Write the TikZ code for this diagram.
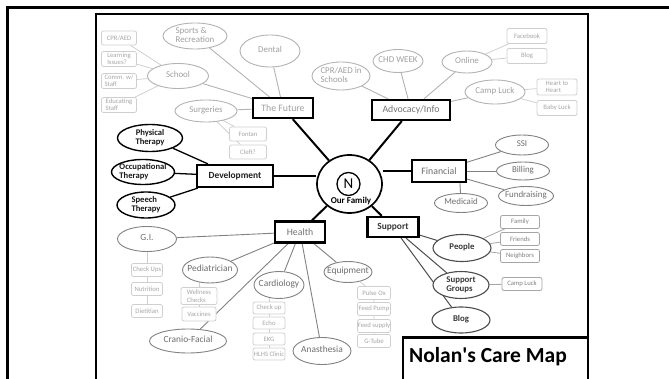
\documentclass[tikz,border=0pt]{standalone}
\usepackage{fontspec}
\setmainfont{Carlito}
\usetikzlibrary{shapes.geometric,backgrounds}
\definecolor{leafd}{HTML}{CFCFCF}
\definecolor{leaft}{HTML}{A6A6A6}
\definecolor{lgd}{HTML}{B3B3B3}
\definecolor{lgt}{HTML}{A0A0A0}
\definecolor{mgd}{HTML}{828282}
\definecolor{mgt}{HTML}{6E6E6E}
\definecolor{dgd}{HTML}{4D4D4D}
\definecolor{dgt}{HTML}{383838}
\newcommand\ctx[1]{\makebox[0pt]{\begin{tabular}{@{}c@{}}#1\end{tabular}}}
\newcommand\ltx[1]{\makebox[0pt]{\begin{tabular}{@{}l@{}}#1\end{tabular}}}
\renewcommand\arraystretch{0.82}
\begin{document}
\begin{tikzpicture}[x=1pt,y=-1pt,
  sz/.style 2 args={minimum width=#1, minimum height=#2},
  mainbox/.style={draw=black, line width=2.2pt, fill=white, inner sep=0pt, font=\fontsize{9.8}{11}\selectfont},
  ell/.style={ellipse, fill=white, inner sep=0pt, line width=0.9pt, font=\fontsize{8.9}{10.5}\selectfont},
  ellL/.style={ell, draw=lgd, text=lgt},
  ellM/.style={ell, draw=mgd, text=mgt, font=\fontsize{9.4}{11}\selectfont},
  ellF/.style={ell, draw=mgd, text=mgt},
  ellD/.style={ell, draw=dgd, text=dgt, line width=1.1pt, font=\fontsize{8.8}{10.5}\selectfont\bfseries},
  ellB/.style={ell, draw=black, text=black!90, line width=1.4pt, font=\fontsize{8.6}{10.5}\selectfont\bfseries},
  leaf/.style={rectangle, rounded corners=2pt, draw=leafd, text=leaft, fill=white, line width=0.8pt, inner sep=0pt, font=\fontsize{6.7}{7.4}\selectfont},
  leafD/.style={leaf, draw=black!35, text=black!50},
  lnL/.style={draw=leafd, line width=0.8pt},
  lnG/.style={draw=lgd, line width=0.9pt},
  lnM/.style={draw=mgd, line width=0.9pt},
  lnD/.style={draw=dgd, line width=1pt},
  lnS/.style={draw=black!35, line width=0.8pt},
  lnB/.style={draw=black, line width=1.3pt},
  lnC/.style={draw=black, line width=2pt}
]
\useasboundingbox (0,0) rectangle (669,379);
% frames
\draw[line width=3pt] (669,7.5) -- (7.5,7.5) -- (7.5,381);
\draw[line width=2pt] (95.5,381) -- (95.5,14.5) -- (588,14.5) -- (588,381);
\draw[line width=2.6pt] (403,381) -- (403,337.5) -- (589,337.5);
\node[font=\fontsize{21.5}{24}\selectfont\bfseries, inner sep=0pt] (title) at (488,357) {Nolan\textquotesingle s Care Map};

% centre
\node[ellipse, draw=black, line width=1.7pt, fill=white, sz={65}{58}, inner sep=0pt] (fam) at (349.5,184) {};
\node[circle, draw=black, line width=1.3pt, minimum size=23, inner sep=0pt, font=\fontsize{15}{16}\selectfont] (nn) at (348.5,184) {N};
\node[font=\fontsize{9}{10}\selectfont\bfseries, inner sep=0pt] (ourf) at (351,201) {Our Family};

% main boxes
\node[mainbox, sz={60}{20}, text=lgt] (fut) at (283,108) {The Future};
\node[mainbox, sz={78}{20}, text=black!55] (adv) at (411,110) {Advocacy/Info};
\node[mainbox, sz={76}{22}, text=black!88, font=\fontsize{9.4}{11}\selectfont\bfseries] (dev) at (235,176) {Development};
\node[mainbox, sz={54}{22}, text=mgt] (fin) at (439,171) {Financial};
\node[mainbox, sz={50}{21}, text=black!55] (hea) at (300,232) {Health};
\node[mainbox, sz={51}{20}, text=dgt, font=\fontsize{9.4}{11}\selectfont\bfseries] (sup) at (393,227) {Support};

% future
\node[ellL, sz={64}{26}] (spo) at (195,36) {\ltx{Sports \&\\Recreation}};
\node[ellL, sz={60}{32}] (den) at (270,51) {\ctx{Dental}};
\node[ellL, sz={61}{25}] (sch) at (178,76) {\ctx{School}};
\node[ellL, sz={62}{22}] (sur) at (206,111) {\ctx{Surgeries}};
\node[leaf, sz={35}{14}] (cpr) at (119,38) {CPR/AED};
\node[leaf, sz={35}{15}, align=left] (lea) at (119,59) {Learning\\Issues?};
\node[leaf, sz={35}{15}, align=left] (com) at (119,81) {Comm. w/\\Staff};
\node[leaf, sz={35}{15}, align=left] (edu) at (119,105) {Educating\\Staff};
\node[leaf, sz={37}{14}] (fon) at (248,134) {Fontan};
\node[leaf, sz={37}{14}] (cle) at (248,152) {Cleft?};

% advocacy
\node[ellL, sz={58}{28}] (cpa) at (341,76) {\ltx{CPR/AED in\\Schools}};
\node[ellL, sz={50}{23}] (chd) at (398,61) {\ctx{CHD WEEK}};
\node[ellL, sz={50}{22}] (onl) at (467,62) {\ctx{Online}};
\node[ellL, sz={60}{24}] (cam) at (495,92) {\ctx{Camp Luck}};
\node[leaf, sz={40}{15}] (fb) at (527,36) {Facebook};
\node[leaf, sz={40}{15}] (blg) at (527,56) {Blog};
\node[leaf, sz={40}{16}, align=left] (hth) at (557,87) {Heart to\\Heart};
\node[leaf, sz={40}{15}] (bab) at (557,108) {Baby Luck};

% development
\node[ellB, sz={65}{27}] (phy) at (150,138) {\ctx{Physical\\Therapy}};
\node[ellB, sz={63}{25}] (occ) at (143,172) {\ltx{Occupational\\Therapy}};
\node[ellB, sz={58}{26}] (spe) at (146,205) {\ltx{Speech\\Therapy}};

% financial
\node[ellF, sz={53}{20}] (ssi) at (522,145) {\ctx{SSI}};
\node[ellF, sz={53}{18}] (bil) at (523,171) {\ctx{Billing}};
\node[ellF, sz={55}{19}] (fun) at (526,196) {\ctx{Fundraising}};
\node[ellF, sz={53}{19}] (med) at (461,203) {\ctx{Medicaid}};

% health
\node[ellM, sz={59}{25}] (gi) at (147,239) {\ctx{G.I.}};
\node[leaf, sz={31}{13}] (chu) at (147,270) {Check Ups};
\node[leaf, sz={31}{13}] (nut) at (147,289) {Nutrition};
\node[leaf, sz={31}{13}] (die) at (147,311) {Dietitian};
\node[ellM, sz={55}{26}] (ped) at (210,270) {\ctx{Pediatrician}};
\node[leaf, sz={36}{17}, align=left] (wel) at (199,296) {Wellness\\Checks};
\node[leaf, sz={34}{14}] (vac) at (199,314) {Vaccines};
\node[ellM, sz={50}{27}] (car) at (279,285) {\ctx{Cardiology}};
\node[leaf, sz={32}{12}] (cku) at (269,308) {Check up};
\node[leaf, sz={32}{12}] (ech) at (269,323) {Echo};
\node[leaf, sz={32}{12}] (ekg) at (269,339) {EKG};
\node[leaf, sz={32}{12}] (hlh) at (269,354) {HLHS Clinic};
\node[ellM, sz={48}{21}] (equ) at (348,272) {\ctx{Equipment}};
\node[leaf, sz={33}{13}] (pul) at (374,293) {Pulse Ox};
\node[leaf, sz={33}{13}] (fpu) at (374,309) {Feed Pump};
\node[leaf, sz={33}{13}] (fsu) at (374,326) {Feed supply};
\node[leaf, sz={33}{13}] (gtu) at (374,341) {G-Tube};
\node[ellM, sz={77}{24}] (cra) at (188,341) {\ctx{Cranio-Facial}};
\node[ellM, sz={58}{27}] (ana) at (322,351) {\ctx{Anasthesia}};

% support
\node[ellD, sz={58}{27}] (peo) at (462,248) {\ctx{People}};
\node[ellD, sz={56}{27}] (sgr) at (461,285) {\ltx{Support\\Groups}};
\node[ellD, sz={58}{26}] (blo) at (461,320) {\ctx{Blog}};
\node[leafD, sz={39}{13}] (fa2) at (520,222) {Family};
\node[leafD, sz={39}{13}] (fri) at (520,239) {Friends};
\node[leafD, sz={39}{13}] (nei) at (520,256) {Neighbors};
\node[leafD, sz={40}{13}] (cl2) at (522,284) {Camp Luck};

\begin{scope}[on background layer]
% centre spokes
\draw[lnC] (fam) -- (fut);
\draw[lnC] (fam) -- (adv);
\draw[lnC] (fam.west |- dev) -- (dev);
\draw[lnC] (fam.east |- fin) -- (fin);
\draw[lnC] (fam) -- (hea);
\draw[lnC] (fam) -- (sup);
% future
\draw[lnG] (fut) -- (spo);
\draw[lnG] (fut) -- (den);
\draw[lnG] (fut) -- (sch);
\draw[lnG] (fut) -- (sur);
\draw[lnL] (sch) -- (cpr);
\draw[lnL] (sch) -- (lea);
\draw[lnL] (sch) -- (com);
\draw[lnL] (sch) -- (edu);
\draw[lnL] (sur) -- (fon);
\draw[lnL] (sur) -- (cle);
% advocacy
\draw[lnG] (adv) -- (cpa);
\draw[lnG] (adv) -- (chd);
\draw[lnG] (adv) -- (onl);
\draw[lnG] (adv) -- (cam);
\draw[lnL] (onl) -- (fb);
\draw[lnL] (onl) -- (blg);
\draw[lnL] (cam) -- (hth);
\draw[lnL] (cam) -- (bab);
% development
\draw[lnB] (dev) -- (phy);
\draw[lnB] (dev) -- (occ);
\draw[lnB] (dev) -- (spe);
% financial
\draw[lnM] (fin) -- (ssi);
\draw[lnM] (fin) -- (bil);
\draw[lnM] (fin) -- (fun);
\draw[lnM] (fin.-30) -- (med);
% health
\draw[lnM] (hea) -- (gi);
\draw[lnM] (hea) -- (ped);
\draw[lnM] (hea) -- (car);
\draw[lnM] (hea) -- (equ);
\draw[lnM] (hea) -- (cra);
\draw[lnM] (hea) -- (ana);
\draw[lnL] (gi) -- (chu) -- (nut) -- (die);
\draw[lnL] (wel |- ped) -- (wel) -- (vac);
\draw[lnL] (cku |- car) -- (cku) -- (ech) -- (ekg) -- (hlh);
\draw[lnL] (equ) -- (pul) -- (fpu) -- (fsu) -- (gtu);
% support
\draw[lnD] (sup) -- (peo);
\draw[lnD] (sup) -- (sgr);
\draw[lnD] (sup) -- (blo);
\draw[lnS] (peo) -- (fa2);
\draw[lnS] (peo) -- (fri);
\draw[lnS] (peo) -- (nei);
\draw[lnS] (sgr) -- (cl2);
\end{scope}
\end{tikzpicture}
\end{document}
